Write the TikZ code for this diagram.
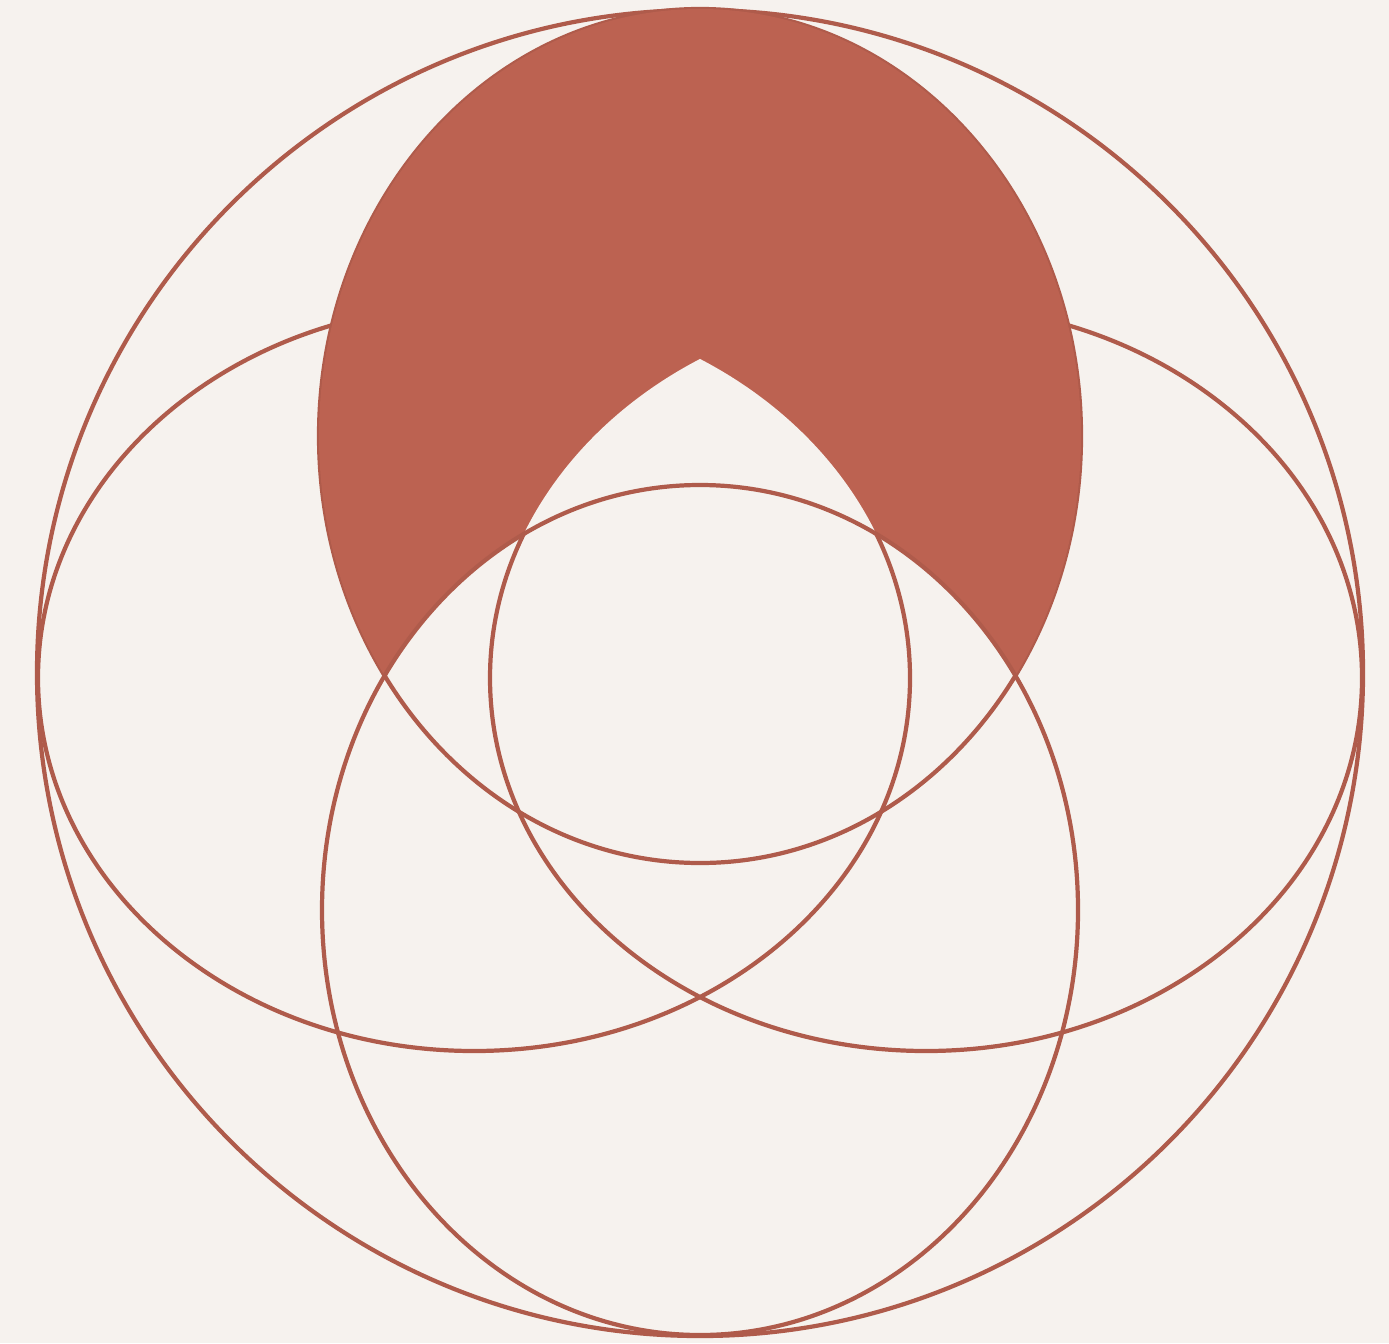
\documentclass[tikz,border=0pt]{standalone}

\definecolor{paper}{HTML}{F6F2EE}
\definecolor{clay}{HTML}{BC6251}
\definecolor{clayline}{HTML}{AF5B4B}

\begin{document}
\begin{tikzpicture}[
  x=0.01cm, y=-0.01cm,
  ring/.style={draw=clayline, line width=1.2pt},
  petal/.style={fill=clay},
  hole/.style={fill=paper}
]
  \fill[paper] (0,0) rectangle (1389,1343);
  \useasboundingbox (0,0) rectangle (1389,1343);

  \coordinate (mid) at (700,673);
  \coordinate (up) at (700,436);
  \coordinate (down) at (700,910);
  \coordinate (west) at (474,678);
  \coordinate (east) at (926,678);

  % outlines
  \draw[ring] (mid) circle[radius=663];
  \draw[ring] (up) ellipse[x radius=381, y radius=427];
  \draw[ring] (west) ellipse[x radius=436, y radius=373];
  \draw[ring] (east) ellipse[x radius=436, y radius=373];

  % crescent: top ellipse minus bottom ellipse and the side lens
  \begin{scope}[even odd rule]
    \clip (up) ellipse[x radius=381, y radius=427];
    \clip (0,0) rectangle (1389,1343)
      (down) ellipse[x radius=378, y radius=425];
    \fill[petal] (0,0) rectangle (1389,1343);
    \clip (west) ellipse[x radius=436, y radius=373];
    \fill[hole] (east) ellipse[x radius=436, y radius=373];
  \end{scope}

  \draw[ring] (down) ellipse[x radius=378, y radius=425];
\end{tikzpicture}
\end{document}
